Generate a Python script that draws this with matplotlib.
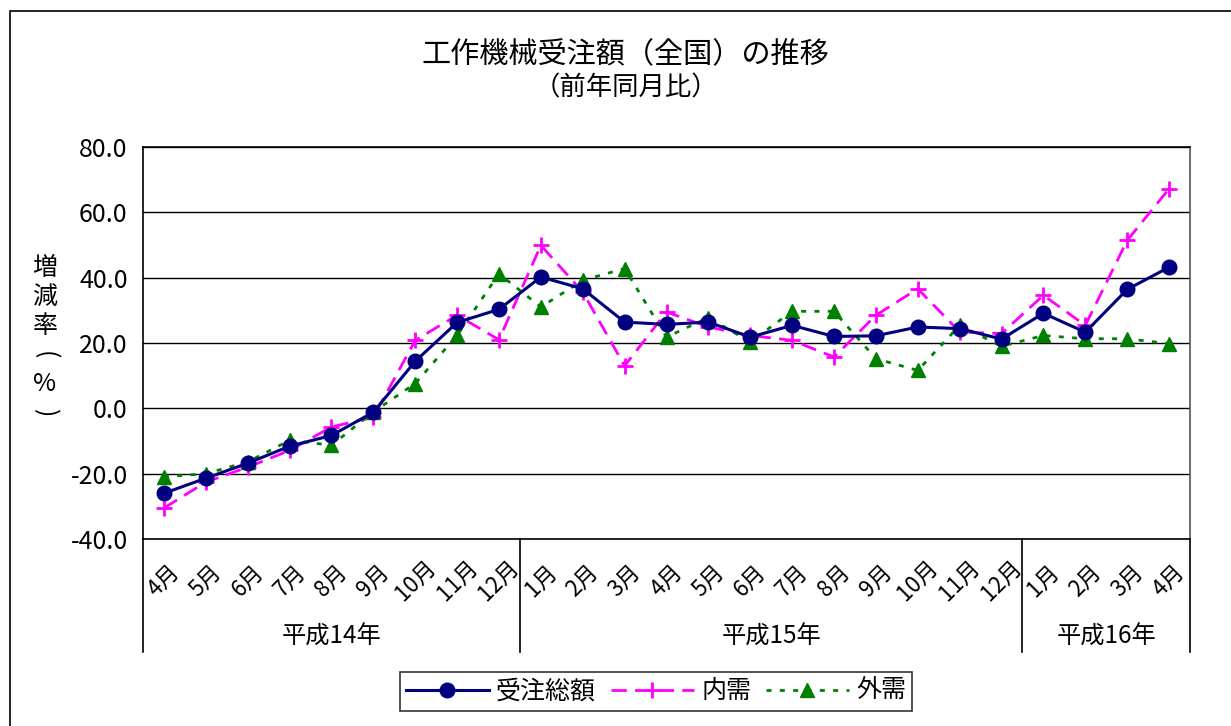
import numpy as np
import matplotlib
matplotlib.use("Agg")
import matplotlib.pyplot as plt
from matplotlib.patches import Rectangle
import matplotlib.transforms as mtrans

plt.rcParams['font.family'] = ['Noto Sans CJK JP', 'DejaVu Sans']

# ---- データ ----
months = ['4月', '5月', '6月', '7月', '8月', '9月', '10月', '11月', '12月',
          '1月', '2月', '3月', '4月', '5月', '6月', '7月', '8月', '9月', '10月', '11月', '12月',
          '1月', '2月', '3月', '4月']
groups = ['平成14年', '平成15年', '平成16年']
group_sizes = [9, 12, 4]

total = [-26.0, -21.4, -16.8, -11.6, -8.3, -1.2, 14.4, 26.3, 30.3,
         40.2, 36.6, 26.4, 25.7, 26.4, 21.8, 25.4, 22.0, 22.2, 24.9, 24.4, 21.2,
         29.1, 23.3, 36.4, 43.2]
domestic = [-30.5, -22.6, -18.0, -12.9, -5.7, -2.7, 20.8, 28.5, 21.0,
            49.9, 35.6, 13.0, 29.5, 24.9, 22.3, 20.8, 15.7, 28.5, 36.6, 23.4, 22.9,
            34.6, 25.4, 51.4, 67.2]
foreign = [-21.0, -20.0, -16.4, -9.8, -11.3, -1.1, 7.6, 22.3, 41.2,
           31.0, 39.2, 42.8, 21.8, 27.8, 20.3, 29.7, 29.7, 15.2, 11.6, 25.4, 19.0,
           22.3, 21.3, 21.3, 19.8]

x = np.arange(len(months))

fig = plt.figure(figsize=(12.31, 7.26), dpi=100)
ax = fig.add_axes([143/1231, 1-539/726, 1047/1231, 392/726])

# 外枠
fig.patches.append(Rectangle((10/1231, -0.1), 1.2, 1-11/726+0.1, transform=fig.transFigure,
                             fill=False, edgecolor='black', linewidth=1.2))

ax.plot(x, total, color='#000080', linewidth=2.2, marker='o', markersize=10.5,
        label='受注総額', zorder=4)
ax.plot(x, domestic, color='#FF00FF', linewidth=2, dashes=(5.5, 3), marker='+',
        markersize=12, markeredgewidth=2, label='内需', zorder=3)
ax.plot(x, foreign, color='#008000', linewidth=2, dashes=(1.8, 3), marker='^',
        markersize=10.5, label='外需', zorder=3)

ax.set_xlim(-0.5, len(months) - 0.5)
ax.set_ylim(-40, 80)
ax.set_yticks(np.arange(-40, 81, 20))
ax.set_yticklabels(['%.1f' % v for v in np.arange(-40, 81, 20)], fontsize=18)
ax.yaxis.grid(True, color='black', linewidth=1)
ax.set_axisbelow(True)
ax.tick_params(axis='y', length=0, pad=11)

ax.set_xticks(x)
ax.set_xticklabels(months, fontsize=16, rotation=45, ha='center', va='center')
ax.tick_params(axis='x', length=0, pad=30)

for s in ax.spines.values():
    s.set_linewidth(1.2)
    s.set_color('black')
ax.spines['right'].set_color('#555555')

# 年の区切り
trans = mtrans.blended_transform_factory(ax.transData, ax.transAxes)
bounds = np.concatenate([[0], np.cumsum(group_sizes)]) - 0.5
for b in bounds:
    ax.plot([b, b], [0, -0.288], color='black', linewidth=1.2, transform=trans, clip_on=False)
for i, g in enumerate(groups):
    ax.text((bounds[i] + bounds[i+1]) / 2, -0.25, g, transform=trans,
            ha='center', va='center', fontsize=17.5)

# タイトル
fig.text(625/1231, 1-55/726, '工作機械受注額（全国）の推移', ha='center', va='center', fontsize=21)
fig.text(626/1231, 1-88/726, '（前年同月比）', ha='center', va='center', fontsize=19)

# 縦軸ラベル（縦書き、括弧は回転）
ylab = ['増', '減', '率', '(', '%', ')']
rots = [0, 0, 0, -90, 0, -90]
for i, ch in enumerate(ylab):
    fig.text(45/1231, 1-(268 + 29*i)/726, ch, ha='center', va='center', fontsize=18,
             rotation=rots[i])

leg = fig.legend(loc='upper center', bbox_to_anchor=(656/1231, 1-672/726), ncol=3,
                 fontsize=18, frameon=True, fancybox=False, edgecolor='black',
                 handlelength=3.3, handletextpad=0.3, columnspacing=0.6,
                 borderpad=0.25, borderaxespad=0)
leg.get_frame().set_linewidth(1.2)

fig.savefig('out.png', dpi=100)
